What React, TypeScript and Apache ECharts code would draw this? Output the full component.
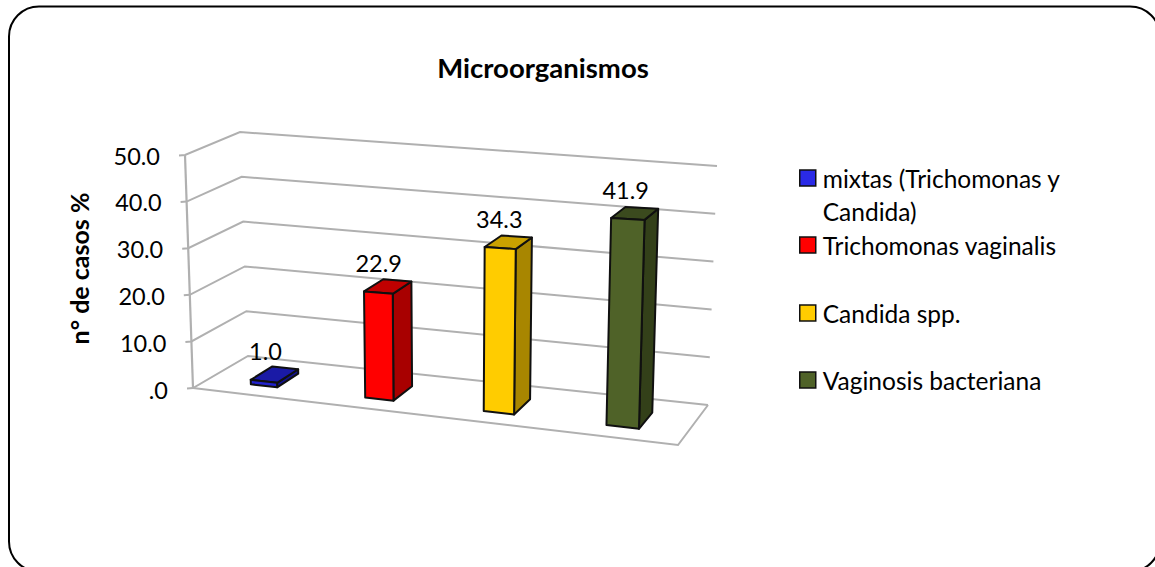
import React, { useEffect, useRef } from "react";
import * as echarts from "echarts";

const categories = ["mixtas (Trichomonas y Candida)", "Trichomonas vaginalis", "Candida spp.", "Vaginosis bacteriana"];
const values = [1.0, 22.9, 34.3, 41.9];
const ticks = [0, 10, 20, 30, 40, 50];
const tickLabels: Record<number, string> = { 0: ".0", 10: "10.0", 20: "20.0", 30: "30.0", 40: "40.0", 50: "50.0" };
const frontColors = ["#2222cc", "#ff0000", "#ffcc00", "#4f6228"];
const topColors = ["#1a1aa6", "#c00000", "#c9a100", "#3b4a1e"];
const sideColors = ["#12128c", "#a80000", "#a88600", "#334019"];
const legendColors = ["#2a2ae6", "#ff0000", "#ffcc00", "#4f6228"];
const legendCentres = [179, 246, 314, 381];

const FONT = "Lato";
const TICK_SIZE = 23.5;

type P = [number, number];
const lerp = (a: number, b: number, t: number) => a + (b - a) * t;
const mix = (a: P, b: P, t: number): P => [lerp(a[0], b[0], t), lerp(a[1], b[1], t)];
// The eight corners of the tilted plot box, as the picture's camera shows it
const floor = { fl: [193, 388] as P, fr: [678, 445] as P, bl: [248, 356] as P, br: [708, 405] as P };
const roof = { fl: [185, 155] as P, fr: [686, 191] as P, bl: [240, 132] as P, br: [717, 166] as P };
function project(u: number, w: number, t: number): P {
  const b = mix(mix(floor.fl, floor.fr, u), mix(floor.bl, floor.br, u), w);
  const r = mix(mix(roof.fl, roof.fr, u), mix(roof.bl, roof.br, u), w);
  return mix(b, r, t);
}
const DEPTH_FRONT = 0.27;
const DEPTH_BACK = 0.68;
// Perspective makes bands grow to the right
const warp = (u: number) => u + 0.0707 * (u - 0.5) * (u - 0.5) - 0.0175;
const halfWidth = (u: number) => 0.0265 + 0.0086 * u;

const gridLineStyle = { stroke: "#b0b0b0", lineWidth: 2, fill: "none" };

function renderGrid(params: any, api: any) {
  const cs = params.coordSys;
  const t = (cs.y + cs.height - api.coord([0, api.value(1)])[1]) / cs.height;
  const a = project(0, 0, t);
  const b = project(0, 1, t);
  const c = project(1, 1, t);
  const children: any[] = [
    { type: "polyline", shape: { points: [[a[0] - 6, a[1] + 0.5], a, b, c] }, style: gridLineStyle },
  ];
  if (params.dataIndex === 0) {
    children.push({
      type: "polyline",
      shape: { points: [project(0, 0, 0), project(1, 0, 0), project(1, 1, 0)] },
      style: gridLineStyle,
    });
    children.push({
      type: "line",
      shape: { x1: project(0, 0, 0)[0], y1: project(0, 0, 0)[1], x2: project(0, 0, 1)[0], y2: project(0, 0, 1)[1] },
      style: { stroke: "#b0b0b0", lineWidth: 2.2 },
    });
  }
  return { type: "group", children };
}

const renderBar = (idx: number) => (params: any, api: any) => {
  const cs = params.coordSys;
  const pos = api.coord([api.value(0), api.value(1)]);
  const uMid = warp((pos[0] - cs.x) / cs.width);
  const half = halfWidth(uMid);
  const uL = uMid - half;
  const uR = uMid + half;
  const tTop = (cs.y + cs.height - pos[1]) / cs.height;
  const tL = tTop * (0.96 + 0.05 * uL);
  const tR = tTop * (0.96 + 0.05 * uR);
  const fbl = project(uL, DEPTH_FRONT, 0);
  const fbr = project(uR, DEPTH_FRONT, 0);
  const bbr = project(uR, DEPTH_BACK, 0);
  const ftl = project(uL, DEPTH_FRONT, tL);
  const ftr = project(uR, DEPTH_FRONT, tR);
  const btr = project(uR, DEPTH_BACK, tR);
  const btl = project(uL, DEPTH_BACK, tL);
  const edge = { stroke: "#101010", lineWidth: 2, lineJoin: "round" };
  const cx = (ftl[0] + btr[0]) / 2;
  const cy = (ftl[1] + btr[1]) / 2;
  return {
    type: "group",
    children: [
      { type: "polygon", shape: { points: [ftr, btr, bbr, fbr] }, style: { fill: sideColors[idx], ...edge } },
      { type: "polygon", shape: { points: [ftl, ftr, btr, btl] }, style: { fill: topColors[idx], ...edge } },
      { type: "polygon", shape: { points: [ftl, ftr, fbr, fbl] }, style: { fill: frontColors[idx], ...edge } },
      {
        type: "text",
        x: cx - 9,
        y: cy - 23.5,
        style: {
          text: values[idx].toFixed(1),
          font: `${TICK_SIZE}px ${FONT}`,
          fill: "#000",
          align: "center",
          verticalAlign: "middle",
        },
      },
    ],
  };
};

const tickRich: Record<string, any> = {};
ticks.forEach((v) => {
  tickRich["t" + v] = {
    fontFamily: FONT,
    fontSize: TICK_SIZE,
    color: "#000",
    padding: [0, (v / 50) * 8, 0, 0],
  };
});

export default function App() {
  const ref = useRef<HTMLDivElement>(null);
  useEffect(() => {
    document.body.style.margin = "0";
    document.body.style.overflow = "hidden";
    const chart = echarts.init(ref.current!, undefined, { renderer: "svg" });
    const legendFor = (i: number) => ({
      data: [categories[i]],
      orient: "vertical" as const,
      left: 799,
      top: legendCentres[i] + 3 - (i === 0 ? 49.5 : 16.5),
      padding: 0,
      icon: "rect",
      itemWidth: 16,
      itemHeight: 16,
      itemGap: 0,
      selectedMode: false,
      itemStyle: { color: legendColors[i], borderColor: "#111", borderWidth: 1.5 },
      formatter: (n: string) =>
        n.includes(" Candida)")
          ? `{a| }\n{a|${n.replace(" Candida)", "")}}\n{a|Candida)}`
          : `{a|${n}}`,
      textStyle: {
        rich: {
          a: {
            fontFamily: FONT,
            fontSize: 24.5,
            color: "#000",
            lineHeight: 33,
            padding: [0, 0, 0, 2],
          },
        },
      },
    });
    chart.setOption({
      animation: false,
      backgroundColor: "#fff",
      title: {
        text: "Microorganismos",
        left: 538,
        top: 48,
        textAlign: "center",
        textStyle: { fontFamily: FONT, fontSize: 27.5, fontWeight: "bold", color: "#000" },
      },
      legend: categories.map((_, i) => legendFor(i)),
      grid: { left: 190, top: 155.5, width: 490, height: 234 },
      xAxis: {
        type: "category",
        data: categories,
        axisLine: { show: false },
        axisTick: { show: false },
        axisLabel: { show: false },
        splitLine: { show: false },
      },
      yAxis: {
        type: "value",
        min: 0,
        max: 50,
        interval: 10,
        axisLine: { show: false },
        axisTick: { show: false },
        splitLine: { show: false },
        axisLabel: {
          margin: 22,
          formatter: (v: number) => `{t${v}|${tickLabels[v]}}`,
          rich: tickRich,
        },
        name: "n° de casos %",
        nameLocation: "middle",
        nameRotate: 90,
        nameGap: 99,
        nameTextStyle: {
          fontFamily: FONT,
          fontSize: 25,
          fontWeight: "bold",
          color: "#000",
          padding: [0, 0, 0, 8],
        },
      },
      series: [
        {
          type: "custom",
          name: "rejilla",
          renderItem: renderGrid,
          data: ticks.map((v) => [0, v]),
          clip: false,
          silent: true,
          z: 1,
        },
        ...categories.map((name, i) => ({
          type: "custom",
          name,
          renderItem: renderBar(i),
          data: [[i, values[i]]],
          itemStyle: { color: legendColors[i] },
          clip: false,
          z: 2,
        })),
      ],
      graphic: [
        {
          type: "rect",
          shape: { x: 9, y: 6.5, width: 1151, height: 565, r: 30 },
          style: { fill: "none", stroke: "#000", lineWidth: 2 },
          silent: true,
          z: 10,
        },
      ],
    });
    return () => chart.dispose();
  }, []);
  return <div ref={ref} style={{ width: 1155, height: 567 }} />;
}
